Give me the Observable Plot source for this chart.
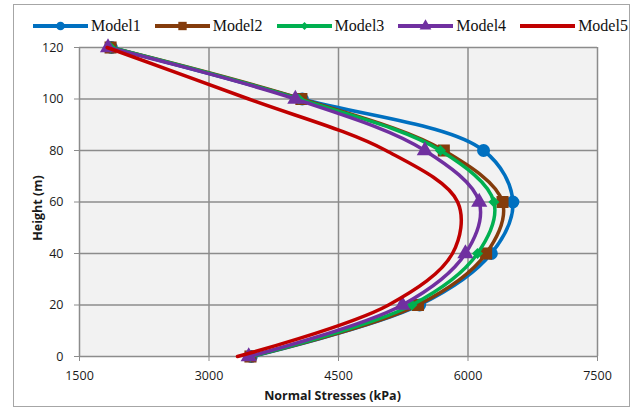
<!DOCTYPE html>
<html>
<head>
<meta charset="utf-8">
<script src="https://cdn.jsdelivr.net/npm/d3@7"></script>
<script src="https://cdn.jsdelivr.net/npm/@observablehq/plot@0.6"></script>
<style>
  html, body { margin: 0; padding: 0; background: #fff; }
  #wrap { position: relative; width: 640px; height: 410px; overflow: hidden; }
  #border { position: absolute; left: 13px; top: 4px; width: 617px; height: 403px;
            box-sizing: border-box; border: 1.5px solid #a6a6a6; pointer-events: none; }
  #legend { height: 36px; box-sizing: border-box; padding-left: 33px; padding-top: 16px;
            display: flex; align-items: center; gap: 14px;
            font-family: "Liberation Serif", "Times New Roman", serif; font-size: 16px; color: #111; }
  .item { display: flex; align-items: center; gap: 3px; height: 16px; }
  .item svg { display: block; }
</style>
</head>
<body>
<div id="wrap">
  <div id="legend"></div>
  <div id="chart"></div>
  <div id="border"></div>
</div>
<script>
// ---- data ----
const models = ["Model1", "Model2", "Model3", "Model4", "Model5"];
const heights = [0, 20, 40, 60, 80, 100, 120];
const model1 = [3490, 5440, 6270, 6520, 6180, 4080, 1870];
const model2 = [3480, 5420, 6210, 6400, 5720, 4070, 1860];
const model3 = [3480, 5350, 6110, 6300, 5680, 4040, 1860];
const model4 = [3460, 5240, 5970, 6130, 5500, 4000, 1830];
const model5 = [3330, 5080, 5820, 5880, 5050, 3460, 1820];
const xTicks = [1500, 3000, 4500, 6000, 7500];
const yTicks = [0, 20, 40, 60, 80, 100, 120];
const colors = ["#0070C0", "#843C0C", "#00B050", "#7030A0", "#C00000"];
const symbols = ["circle", "square", "diamond2", "triangle", null];
const markerR = [6.5, 6.8, 5, 6, 0];

const series = [model1, model2, model3, model4, model5];
const rows = series.flatMap((vals, i) => vals.map((v, j) => ({model: models[i], height: heights[j], stress: v})));

// ---- legend ----
const legend = d3.select("#legend");
const d3Sym = {circle: d3.symbolCircle, square: d3.symbolSquare, diamond2: d3.symbolDiamond2, triangle: d3.symbolTriangle};
const legendSize = {circle: 60, square: 70, diamond2: 40, triangle: 60};
models.forEach((m, i) => {
  const it = legend.append("div").attr("class", "item");
  const s = it.append("svg").attr("width", 55).attr("height", 14);
  s.append("line").attr("x1", 0).attr("x2", 55).attr("y1", 7).attr("y2", 7)
    .attr("stroke", colors[i]).attr("stroke-width", 4).attr("stroke-linecap", "round");
  if (symbols[i]) {
    s.append("path").attr("transform", "translate(27.5,7)")
      .attr("d", d3.symbol(d3Sym[symbols[i]], legendSize[symbols[i]])())
      .attr("fill", colors[i]);
  }
  it.append("span").text(m);
});

// ---- chart ----
const seriesMarks = models.flatMap((m, i) => {
  const data = rows.filter(d => d.model === m);
  const marks = [Plot.line(data, {x: "stress", y: "height", stroke: colors[i], strokeWidth: 3.5, curve: "catmull-rom"})];
  if (symbols[i]) marks.push(Plot.dot(data, {x: "stress", y: "height", symbol: () => symbols[i], r: markerR[i], fill: colors[i], stroke: "none"}));
  return marks;
});

const chart = Plot.plot({
  width: 640,
  height: 374,
  marginLeft: 79,
  marginRight: 43,
  marginTop: 11,
  marginBottom: 54,
  style: {fontFamily: "'Open Sans', sans-serif", fontSize: "12.5px", color: "#1a1a1a", background: "transparent", overflow: "visible"},
  x: {domain: [1500, 7500]},
  y: {domain: [0, 120]},
  symbol: {type: "identity"},
  marks: [
    Plot.frame({fill: "#f2f2f2", stroke: "none"}),
    Plot.gridX(xTicks, {stroke: "#8c8c8c", strokeOpacity: 1, strokeWidth: 1.5}),
    Plot.gridY(yTicks, {stroke: "#8c8c8c", strokeOpacity: 1, strokeWidth: 1.5}),
    Plot.axisX(xTicks, {tickSize: 5, tickPadding: 10, stroke: "#8c8c8c", fill: "#1a1a1a", label: null, tickFormat: d3.format("d")}),
    Plot.axisY(yTicks, {tickSize: 5, tickPadding: 11, stroke: "#8c8c8c", fill: "#1a1a1a", label: null, tickFormat: d3.format("d")}),
    ...seriesMarks,
    Plot.text(["Normal Stresses (kPa)"], {frameAnchor: "bottom", dy: 43, dx: -6, textAnchor: "middle", fontWeight: "bold", fontSize: 12.5, fill: "#1a1a1a"}),
    Plot.text(["Height (m)"], {frameAnchor: "left", dx: -42, dy: 6, rotate: -90, textAnchor: "middle", fontWeight: "bold", fontSize: 12.5, fill: "#1a1a1a"})
  ]
});
document.getElementById("chart").appendChild(chart);
</script>
</body>
</html>
